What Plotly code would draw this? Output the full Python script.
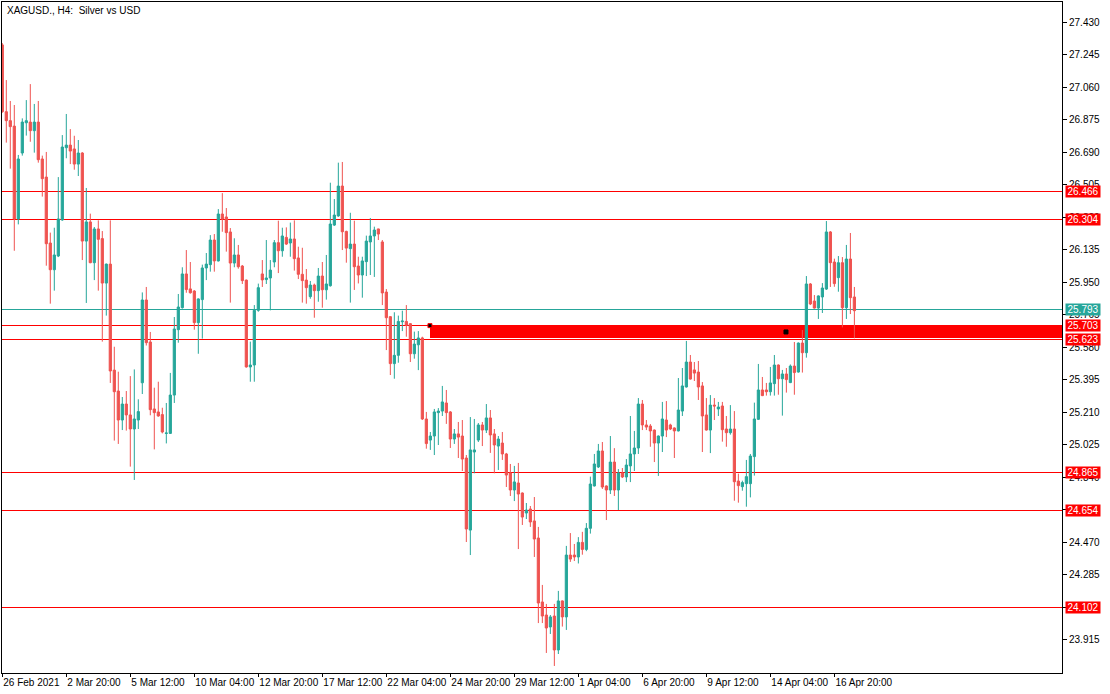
import plotly.graph_objects as go

title_text = "XAGUSD., H4:\u00a0 Silver vs USD"

opens = [27.300, 26.920, 26.869, 26.838, 26.310, 26.685, 26.857, 26.861, 26.812, 26.861,
         26.651, 26.548, 26.173, 26.021, 26.099, 26.304, 26.715, 26.730, 26.708, 26.622,
         26.685, 26.184, 26.293, 26.061, 26.253, 26.198, 25.945, 26.053, 25.450, 25.331,
         25.166, 25.257, 25.195, 25.115, 25.166, 25.378, 25.849, 25.610, 25.229, 25.212,
         25.197, 25.090, 25.090, 25.308, 25.680, 25.805, 25.997, 25.912, 25.900, 25.720,
         25.851, 26.031, 26.050, 26.190, 26.071, 26.338, 26.321, 26.236, 26.059, 26.105,
         26.042, 25.962, 25.468, 25.479, 25.790, 25.997, 25.965, 25.974, 26.065, 26.175,
         26.129, 26.205, 26.173, 26.196, 26.088, 25.995, 25.962, 25.868, 25.934, 25.902,
         25.985, 25.907, 25.930, 26.275, 26.327, 26.497, 26.239, 26.141, 26.167, 26.042,
         25.991, 26.067, 26.179, 26.213, 26.253, 26.179, 25.894, 25.754, 25.487, 25.534,
         25.725, 25.727, 25.714, 25.543, 25.594, 25.633, 25.172, 25.052, 25.075, 25.208,
         25.217, 25.263, 25.212, 25.058, 25.087, 25.075, 24.950, 24.540, 24.984, 25.052,
         25.138, 25.109, 25.178, 25.087, 25.018, 25.035, 24.973, 24.865, 24.768, 24.808,
         24.751, 24.637, 24.660, 24.592, 24.495, 24.131, 24.057, 23.989, 24.051, 23.858,
         24.137, 24.046, 24.398, 24.398, 24.387, 24.470, 24.430, 24.550, 24.791, 24.899,
         24.990, 24.791, 24.768, 24.927, 24.768, 24.865, 24.842, 24.905, 24.973, 25.007,
         25.257, 25.138, 25.132, 25.109, 25.035, 25.075, 25.166, 25.138, 25.121, 25.104,
         25.217, 25.354, 25.496, 25.451, 25.439, 25.360, 25.195, 25.109, 25.251, 25.229,
         25.246, 25.115, 25.094, 25.115, 24.819, 24.787, 24.804, 24.804, 24.958, 25.170,
         25.337, 25.337, 25.327, 25.373, 25.479, 25.401, 25.428, 25.379, 25.473, 25.439,
         25.604, 25.549, 25.940, 25.843, 25.803, 25.866, 25.911, 26.236, 26.065, 25.976,
         26.061, 25.805, 26.082, 25.866]
highs = [27.310, 27.100, 26.981, 26.958, 26.674, 26.882, 26.986, 27.077, 26.964, 26.981,
         26.670, 26.691, 26.232, 26.260, 26.548, 26.787, 26.907, 26.821, 26.783, 26.759,
         26.690, 26.486, 26.340, 26.264, 26.302, 26.241, 26.056, 26.302, 25.583, 25.441,
         25.297, 25.331, 25.416, 25.454, 25.284, 25.892, 25.923, 25.667, 25.350, 25.384,
         25.236, 25.263, 25.434, 25.752, 25.883, 26.035, 26.133, 26.065, 25.905, 25.858,
         26.050, 26.116, 26.218, 26.224, 26.366, 26.457, 26.372, 26.258, 26.200, 26.162,
         26.048, 25.965, 25.612, 25.820, 25.942, 26.076, 26.190, 26.076, 26.190, 26.300,
         26.260, 26.262, 26.289, 26.302, 26.152, 26.146, 26.025, 25.957, 25.942, 26.031,
         26.065, 26.105, 26.516, 26.423, 26.630, 26.634, 26.243, 26.345, 26.300, 26.095,
         26.095, 26.215, 26.315, 26.266, 26.254, 26.190, 25.911, 25.757, 25.779, 25.760,
         25.788, 25.820, 25.717, 25.669, 25.672, 25.640, 25.212, 25.098, 25.229, 25.234,
         25.360, 25.337, 25.217, 25.115, 25.155, 25.166, 24.967, 25.183, 25.172, 25.149,
         25.155, 25.257, 25.223, 25.115, 25.075, 25.098, 24.979, 24.916, 24.905, 24.922,
         24.754, 24.694, 24.677, 24.728, 24.558, 24.228, 24.120, 24.057, 24.120, 24.194,
         24.140, 24.450, 24.523, 24.461, 24.500, 24.530, 24.580, 24.844, 24.973, 25.030,
         25.041, 24.794, 25.075, 25.006, 24.887, 24.893, 24.944, 25.189, 25.104, 25.291,
         25.280, 25.166, 25.143, 25.112, 25.078, 25.269, 25.274, 25.145, 25.124, 25.405,
         25.462, 25.616, 25.536, 25.496, 25.502, 25.382, 25.291, 25.308, 25.291, 25.269,
         25.269, 25.189, 25.251, 25.217, 24.861, 24.821, 24.939, 24.973, 25.265, 25.485,
         25.411, 25.377, 25.468, 25.536, 25.482, 25.451, 25.462, 25.482, 25.610, 25.607,
         25.678, 25.985, 25.945, 25.877, 25.875, 25.945, 26.298, 26.241, 26.084, 26.099,
         26.093, 26.162, 26.230, 25.923]
lows = [26.914, 26.744, 26.596, 26.129, 26.279, 26.670, 26.784, 26.749, 26.687, 26.630,
        26.437, 26.044, 25.828, 25.902, 26.093, 26.300, 26.655, 26.622, 26.590, 26.554,
        26.076, 25.832, 26.058, 25.962, 25.902, 25.612, 25.760, 25.377, 25.049, 25.030,
        25.109, 25.106, 24.901, 24.825, 25.115, 25.314, 25.590, 25.193, 24.999, 25.185,
        25.090, 25.033, 25.087, 25.263, 25.606, 25.800, 25.890, 25.885, 25.680, 25.543,
        25.629, 25.962, 26.010, 26.010, 26.068, 26.237, 26.124, 25.834, 26.035, 26.027,
        25.940, 25.464, 25.384, 25.384, 25.782, 25.923, 25.940, 25.790, 26.035, 26.002,
        26.095, 26.162, 26.095, 26.016, 25.968, 25.834, 25.828, 25.856, 25.748, 25.839,
        25.805, 25.851, 25.925, 26.270, 26.322, 26.133, 26.061, 25.834, 25.906, 25.943,
        25.862, 25.985, 25.991, 25.980, 26.190, 25.820, 25.564, 25.422, 25.401, 25.492,
        25.672, 25.640, 25.496, 25.515, 25.450, 25.166, 25.003, 24.996, 24.967, 25.024,
        25.189, 25.144, 25.007, 25.030, 24.950, 24.876, 24.472, 24.398, 24.863, 25.041,
        25.018, 25.092, 24.979, 24.863, 24.882, 24.939, 24.785, 24.734, 24.705, 24.432,
        24.569, 24.603, 24.558, 24.387, 24.011, 24.011, 23.841, 23.949, 23.767, 23.835,
        23.991, 23.972, 24.359, 24.364, 24.350, 24.400, 24.420, 24.520, 24.788, 24.893,
        24.774, 24.597, 24.745, 24.734, 24.654, 24.836, 24.813, 24.813, 24.876, 24.973,
        25.109, 25.109, 25.014, 24.927, 24.848, 24.984, 25.069, 25.109, 24.950, 25.101,
        25.189, 25.351, 25.396, 25.388, 25.280, 24.984, 25.106, 24.978, 25.166, 25.189,
        25.043, 25.014, 25.083, 24.707, 24.696, 24.764, 24.673, 24.726, 24.850, 25.166,
        25.302, 25.305, 25.305, 25.305, 25.310, 25.191, 25.322, 25.376, 25.310, 25.436,
        25.436, 25.521, 25.820, 25.800, 25.741, 25.775, 25.906, 25.923, 25.924, 25.896,
        25.693, 25.741, 25.769, 25.631]
closes = [26.920, 26.869, 26.835, 26.310, 26.651, 26.861, 26.869, 26.812, 26.861, 26.647,
          26.539, 26.169, 26.021, 26.105, 26.310, 26.719, 26.730, 26.696, 26.622, 26.685,
          26.184, 26.293, 26.061, 26.253, 26.194, 25.945, 26.053, 25.445, 25.327, 25.166,
          25.257, 25.195, 25.115, 25.172, 25.214, 25.849, 25.606, 25.225, 25.208, 25.189,
          25.098, 25.092, 25.308, 25.684, 25.809, 25.997, 25.908, 25.890, 25.720, 25.855,
          26.031, 26.053, 26.190, 26.071, 26.338, 26.309, 26.232, 26.059, 26.105, 26.038,
          25.959, 25.468, 25.479, 25.790, 25.919, 25.963, 25.974, 26.019, 26.175, 26.129,
          26.213, 26.167, 26.196, 26.084, 25.995, 25.959, 25.919, 25.934, 25.902, 25.985,
          25.907, 25.940, 26.281, 26.332, 26.497, 26.237, 26.144, 26.167, 26.038, 25.991,
          26.071, 26.184, 26.213, 26.247, 26.224, 25.889, 25.748, 25.487, 25.534, 25.727,
          25.729, 25.705, 25.543, 25.598, 25.633, 25.172, 25.032, 25.075, 25.212, 25.217,
          25.269, 25.208, 25.058, 25.087, 25.069, 24.944, 24.546, 24.996, 24.996, 25.138,
          25.109, 25.178, 25.081, 25.024, 25.058, 24.973, 24.853, 24.768, 24.814, 24.745,
          24.614, 24.654, 24.586, 24.489, 24.125, 24.051, 23.983, 24.046, 23.858, 24.137,
          24.046, 24.398, 24.375, 24.387, 24.470, 24.430, 24.550, 24.802, 24.916, 24.990,
          24.785, 24.768, 24.927, 24.768, 24.865, 24.842, 24.910, 24.973, 25.007, 25.257,
          25.138, 25.126, 25.104, 25.035, 25.075, 25.172, 25.109, 25.115, 25.104, 25.223,
          25.360, 25.496, 25.399, 25.433, 25.354, 25.189, 25.109, 25.251, 25.246, 25.240,
          25.111, 25.094, 25.115, 24.815, 24.793, 24.810, 24.844, 24.961, 25.172, 25.337,
          25.305, 25.327, 25.377, 25.479, 25.401, 25.428, 25.396, 25.473, 25.436, 25.604,
          25.549, 25.940, 25.826, 25.803, 25.872, 25.917, 26.236, 26.061, 25.942, 26.061,
          25.805, 26.082, 25.862, 25.788]
bar_index = list(range(len(opens)))

tick_bars = [0, 16, 32, 48, 64, 80, 96, 112, 128, 144, 160, 176, 192, 208]
tick_labels = ["26 Feb 2021", "2 Mar 20:00", "5 Mar 12:00", "10 Mar 04:00",
               "12 Mar 20:00", "17 Mar 12:00", "22 Mar 04:00", "24 Mar 20:00",
               "29 Mar 12:00", "1 Apr 04:00", "6 Apr 20:00", "9 Apr 12:00",
               "14 Apr 04:00", "16 Apr 20:00"]
price_ticks = [27.430, 27.245, 27.060, 26.875, 26.690, 26.505, 26.320, 26.135,
               25.950, 25.765, 25.580, 25.395, 25.210, 25.025, 24.840, 24.655,
               24.470, 24.285, 24.100, 23.915]

red_levels = [26.466, 26.304, 25.703, 25.623, 24.865, 24.654, 24.102]
teal_levels = [25.793]
zone_top = 25.703
zone_bottom = 25.633
zone_start_bar = 106.9
anchor_bars = [106.9, 195.9]
anchor_prices = [25.703, 25.667]

UP = "#26a69a"
DOWN = "#ef5350"
LINE_RED = "#ff0000"
FONT = "Liberation Sans"

fig = go.Figure()
fig.add_trace(go.Candlestick(
    x=bar_index, open=opens, high=highs, low=lows, close=closes,
    increasing=dict(line=dict(color=UP, width=1), fillcolor=UP),
    decreasing=dict(line=dict(color=DOWN, width=1), fillcolor=DOWN),
    whiskerwidth=0, hoverinfo="skip", showlegend=False,
))
fig.add_trace(go.Scatter(
    x=anchor_bars, y=anchor_prices, mode="markers",
    marker=dict(symbol="square", size=4, color="black",
                line=dict(color=[LINE_RED, "black"], width=1)),
    hoverinfo="skip", showlegend=False,
))

shapes = []
shapes.append(dict(type="rect", xref="x", yref="y", x0=zone_start_bar, x1=264.9,
                   y0=zone_bottom, y1=zone_top, fillcolor=LINE_RED,
                   line=dict(width=0), layer="below"))
for lv in red_levels:
    shapes.append(dict(type="line", xref="paper", yref="y", x0=0, x1=1, y0=lv, y1=lv,
                       line=dict(color=LINE_RED, width=1), layer="below"))
for lv in teal_levels:
    shapes.append(dict(type="line", xref="paper", yref="y", x0=0, x1=1, y0=lv, y1=lv,
                       line=dict(color=UP, width=1), layer="below"))

annotations = [dict(text=title_text, xref="paper", yref="paper", x=0, y=1,
                    xanchor="left", yanchor="top", xshift=3, yshift=-1,
                    showarrow=False, font=dict(family=FONT, size=10, color="black"))]
levels_all = [(lv, LINE_RED) for lv in red_levels] + [(lv, UP) for lv in teal_levels]
for lv, col in levels_all:
    annotations.append(dict(text=f"{lv:.3f}", xref="paper", yref="y", x=1, y=lv,
                            xanchor="left", yanchor="middle", xshift=3,
                            showarrow=False, bgcolor=col, borderpad=0,
                            width=34, height=11,
                            font=dict(family=FONT, size=10, color="white")))

fig.update_layout(
    width=1110, height=694,
    margin=dict(l=2, r=48, t=2, b=21, autoexpand=False),
    paper_bgcolor="white", plot_bgcolor="white",
    shapes=shapes, annotations=annotations,
    boxgap=0.45, boxgroupgap=0,
    xaxis=dict(range=[-0.075, 264.9], rangeslider=dict(visible=False),
               tickmode="array", tickvals=tick_bars, ticktext=tick_labels,
               tickangle=0, automargin=False,
               ticks="outside", ticklen=3, tickcolor="black",
               ticklabelposition="outside right",
               showline=True, linecolor="black", linewidth=1, mirror=True,
               showgrid=False, zeroline=False,
               tickfont=dict(family=FONT, size=10, color="black")),
    yaxis=dict(range=[23.727, 27.544], side="right", automargin=False,
               tickmode="array", tickvals=price_ticks,
               ticktext=[f"{v:.3f}" for v in price_ticks],
               ticks="outside", ticklen=4, tickcolor="black",
               showline=True, linecolor="black", linewidth=1, mirror=True,
               showgrid=False, zeroline=False,
               tickfont=dict(family=FONT, size=10, color="black")),
)

post_js = """
document.body.style.margin = '0';
var gd = document.getElementById('{plot_id}');
function crisp() {
  gd.querySelectorAll('.shapelayer path').forEach(function (p) {
    p.style.shapeRendering = 'crispEdges';
  });
}
crisp();
if (gd.on) { gd.on('plotly_afterplot', crisp); }
"""

fig.write_html("out.html", config={"displayModeBar": False}, post_script=post_js)
